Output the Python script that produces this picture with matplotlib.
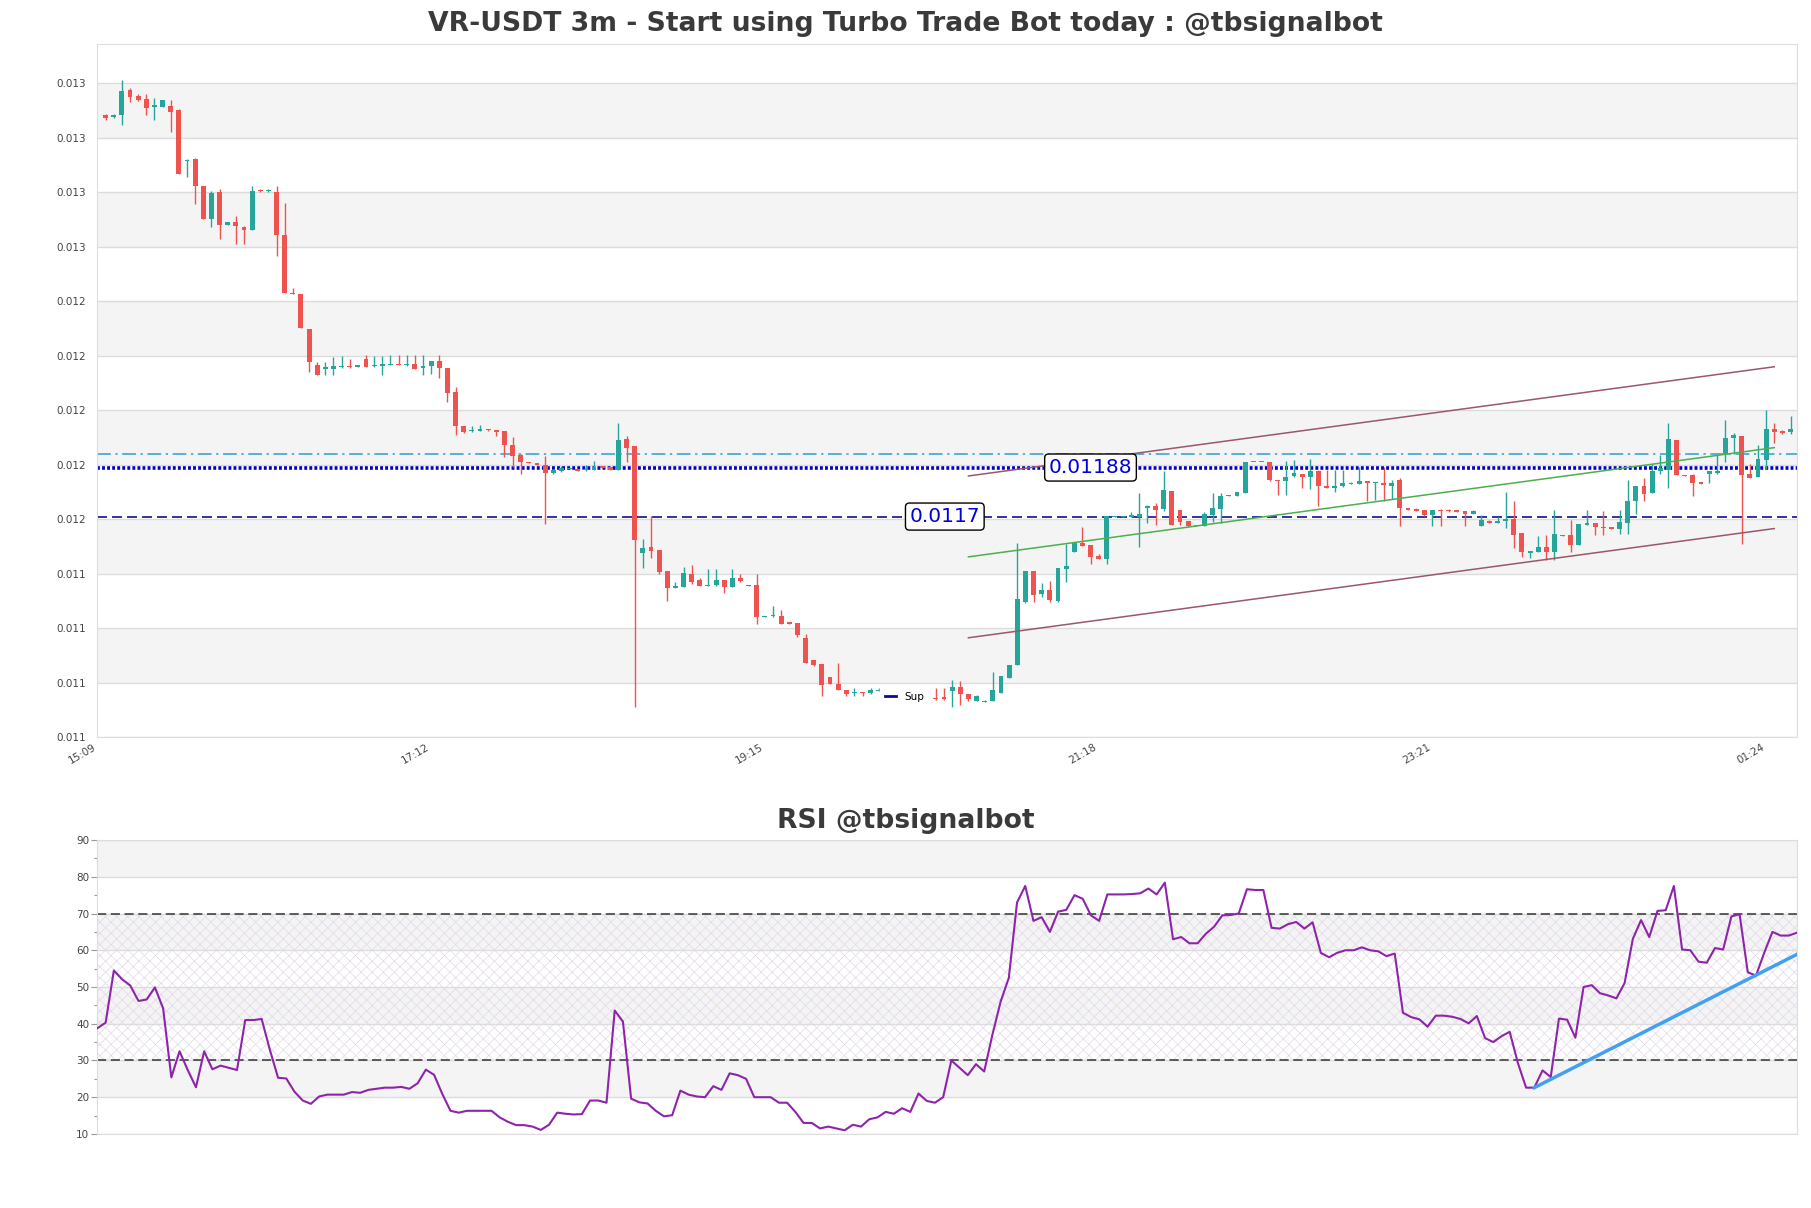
import matplotlib
matplotlib.use('agg')
import matplotlib.pyplot as plt
import numpy as np
from matplotlib.lines import Line2D

# 3m candles, first candle 15:12
opens = [
    0.013184, 0.013176, 0.013185, 0.013276, 0.013254, 0.013243, 0.013215, 0.013215, 0.013217, 0.013203,
    0.013014, 0.013023, 0.012923, 0.012804, 0.012902, 0.012779, 0.012791, 0.012774, 0.012761, 0.012909,
    0.012905, 0.012902, 0.012745, 0.012532, 0.012528, 0.012398, 0.012265, 0.012253, 0.012250, 0.012259,
    0.012262, 0.012259, 0.012289, 0.012261, 0.012264, 0.012266, 0.012271, 0.012266, 0.012271, 0.012256,
    0.012262, 0.012282, 0.012257, 0.012166, 0.012043, 0.012024, 0.012025, 0.012030, 0.012029, 0.012023,
    0.011971, 0.011935, 0.011909, 0.011908, 0.011901, 0.011871, 0.011877, 0.011885, 0.011885, 0.011880,
    0.011881, 0.011893, 0.011891, 0.011882, 0.011996, 0.011968, 0.011577, 0.011597, 0.011587, 0.011511,
    0.011449, 0.011453, 0.011499, 0.011478, 0.011456, 0.011460, 0.011476, 0.011453, 0.011483, 0.011456,
    0.011458, 0.011342, 0.011344, 0.011345, 0.011320, 0.011318, 0.011265, 0.011183, 0.011169, 0.011121,
    0.011095, 0.011074, 0.011062, 0.011067, 0.011063, 0.011069, 0.011074, 0.011070, 0.011066, 0.011070,
    0.011068, 0.011064, 0.011044, 0.011047, 0.011068, 0.011083, 0.011058, 0.011034, 0.011029, 0.011032,
    0.011061, 0.011117, 0.011166, 0.011398, 0.011509, 0.011427, 0.011439, 0.011399, 0.011519, 0.011581,
    0.011614, 0.011605, 0.011565, 0.011555, 0.011709, 0.011709, 0.011709, 0.011709, 0.011740, 0.011747,
    0.011739, 0.011803, 0.011734, 0.011693, 0.011678, 0.011676, 0.011717, 0.011739, 0.011785, 0.011787,
    0.011798, 0.011912, 0.011910, 0.011912, 0.011844, 0.011839, 0.011859, 0.011866, 0.011855, 0.011876,
    0.011824, 0.011814, 0.011821, 0.011830, 0.011830, 0.011838, 0.011833, 0.011833, 0.011822, 0.011843,
    0.011743, 0.011739, 0.011733, 0.011715, 0.011733, 0.011733, 0.011732, 0.011729, 0.011720, 0.011677,
    0.011695, 0.011688, 0.011692, 0.011702, 0.011648, 0.011578, 0.011581, 0.011597, 0.011581, 0.011644,
    0.011641, 0.011606, 0.011680, 0.011685, 0.011671, 0.011671, 0.011663, 0.011687, 0.011768, 0.011821,
    0.011797, 0.011878, 0.011882, 0.011990, 0.011864, 0.011862, 0.011836, 0.011868, 0.011871, 0.011939,
    0.012000, 0.012005, 0.011865, 0.011854, 0.011917, 0.012033, 0.012022, 0.012019,
]
highs = [
    0.013189, 0.013187, 0.013312, 0.013282, 0.013260, 0.013260, 0.013246, 0.013239, 0.013238, 0.013205,
    0.013022, 0.013025, 0.012923, 0.012906, 0.012912, 0.012791, 0.012814, 0.012778, 0.012924, 0.012913,
    0.012911, 0.012924, 0.012863, 0.012550, 0.012528, 0.012398, 0.012277, 0.012277, 0.012295, 0.012298,
    0.012289, 0.012268, 0.012303, 0.012301, 0.012301, 0.012304, 0.012304, 0.012304, 0.012304, 0.012304,
    0.012282, 0.012304, 0.012257, 0.012187, 0.012043, 0.012041, 0.012045, 0.012030, 0.012029, 0.012023,
    0.012003, 0.011941, 0.011909, 0.011908, 0.011934, 0.011886, 0.011894, 0.011888, 0.011885, 0.011899,
    0.011913, 0.011893, 0.011891, 0.012053, 0.012007, 0.011970, 0.011626, 0.011711, 0.011587, 0.011511,
    0.011471, 0.011525, 0.011532, 0.011483, 0.011519, 0.011519, 0.011476, 0.011517, 0.011499, 0.011459,
    0.011499, 0.011345, 0.011382, 0.011367, 0.011320, 0.011318, 0.011279, 0.011183, 0.011169, 0.011121,
    0.011173, 0.011074, 0.011079, 0.011067, 0.011080, 0.011080, 0.011085, 0.011078, 0.011076, 0.011075,
    0.011075, 0.011072, 0.011079, 0.011079, 0.011110, 0.011105, 0.011058, 0.011054, 0.011037, 0.011139,
    0.011126, 0.011166, 0.011613, 0.011509, 0.011509, 0.011466, 0.011472, 0.011521, 0.011608, 0.011613,
    0.011673, 0.011605, 0.011571, 0.011712, 0.011712, 0.011712, 0.011725, 0.011795, 0.011753, 0.011758,
    0.011877, 0.011803, 0.011734, 0.011693, 0.011680, 0.011728, 0.011798, 0.011795, 0.011789, 0.011800,
    0.011912, 0.011912, 0.011910, 0.011912, 0.011844, 0.011913, 0.011916, 0.011866, 0.011920, 0.011880,
    0.011882, 0.011880, 0.011880, 0.011836, 0.011892, 0.011838, 0.011837, 0.011892, 0.011843, 0.011853,
    0.011743, 0.011743, 0.011733, 0.011735, 0.011739, 0.011736, 0.011735, 0.011729, 0.011733, 0.011715,
    0.011699, 0.011710, 0.011800, 0.011766, 0.011648, 0.011582, 0.011638, 0.011642, 0.011733, 0.011644,
    0.011697, 0.011681, 0.011733, 0.011685, 0.011730, 0.011671, 0.011733, 0.011846, 0.011821, 0.011853,
    0.011902, 0.011935, 0.012055, 0.011990, 0.011864, 0.011868, 0.011836, 0.011876, 0.011935, 0.012063,
    0.012017, 0.012005, 0.011902, 0.011972, 0.012103, 0.012055, 0.012028, 0.012080,
]
lows = [
    0.013167, 0.013174, 0.013149, 0.013233, 0.013237, 0.013185, 0.013167, 0.013215, 0.013121, 0.012966,
    0.012958, 0.012857, 0.012804, 0.012772, 0.012728, 0.012779, 0.012709, 0.012709, 0.012761, 0.012903,
    0.012900, 0.012665, 0.012529, 0.012526, 0.012402, 0.012240, 0.012229, 0.012229, 0.012229, 0.012256,
    0.012256, 0.012259, 0.012259, 0.012259, 0.012229, 0.012266, 0.012266, 0.012263, 0.012250, 0.012229,
    0.012233, 0.012218, 0.012130, 0.012008, 0.012017, 0.012020, 0.012025, 0.012024, 0.012004, 0.011929,
    0.011893, 0.011868, 0.011905, 0.011901, 0.011681, 0.011868, 0.011875, 0.011885, 0.011879, 0.011877,
    0.011881, 0.011890, 0.011882, 0.011880, 0.011910, 0.011009, 0.011522, 0.011559, 0.011498, 0.011401,
    0.011449, 0.011450, 0.011464, 0.011456, 0.011456, 0.011456, 0.011431, 0.011453, 0.011471, 0.011456,
    0.011316, 0.011342, 0.011342, 0.011317, 0.011317, 0.011269, 0.011174, 0.011161, 0.011053, 0.011095,
    0.011072, 0.011053, 0.011053, 0.011053, 0.011059, 0.011069, 0.011065, 0.011062, 0.011060, 0.011063,
    0.011011, 0.011058, 0.011038, 0.011038, 0.011011, 0.011019, 0.011034, 0.011034, 0.011029, 0.011032,
    0.011061, 0.011117, 0.011166, 0.011392, 0.011395, 0.011414, 0.011395, 0.011395, 0.011471, 0.011581,
    0.011603, 0.011537, 0.011555, 0.011537, 0.011709, 0.011709, 0.011709, 0.011599, 0.011685, 0.011679,
    0.011730, 0.011679, 0.011679, 0.011676, 0.011674, 0.011676, 0.011691, 0.011685, 0.011785, 0.011785,
    0.011797, 0.011910, 0.011909, 0.011839, 0.011788, 0.011788, 0.011855, 0.011814, 0.011810, 0.011749,
    0.011815, 0.011800, 0.011819, 0.011828, 0.011830, 0.011768, 0.011770, 0.011766, 0.011774, 0.011676,
    0.011735, 0.011732, 0.011711, 0.011676, 0.011676, 0.011727, 0.011727, 0.011676, 0.011718, 0.011677,
    0.011687, 0.011687, 0.011669, 0.011593, 0.011560, 0.011559, 0.011581, 0.011550, 0.011550, 0.011639,
    0.011581, 0.011606, 0.011680, 0.011644, 0.011644, 0.011663, 0.011645, 0.011645, 0.011719, 0.011768,
    0.011797, 0.011868, 0.011815, 0.011862, 0.011859, 0.011786, 0.011830, 0.011834, 0.011868, 0.011910,
    0.011941, 0.011609, 0.011853, 0.011854, 0.011886, 0.011980, 0.012012, 0.012014,
]
closes = [
    0.013174, 0.013184, 0.013272, 0.013251, 0.013240, 0.013211, 0.013218, 0.013239, 0.013196, 0.012966,
    0.013019, 0.012922, 0.012804, 0.012899, 0.012779, 0.012791, 0.012775, 0.012761, 0.012906, 0.012905,
    0.012908, 0.012742, 0.012529, 0.012526, 0.012402, 0.012277, 0.012229, 0.012259, 0.012262, 0.012264,
    0.012259, 0.012268, 0.012259, 0.012266, 0.012268, 0.012271, 0.012266, 0.012271, 0.012253, 0.012264,
    0.012282, 0.012255, 0.012163, 0.012042, 0.012020, 0.012029, 0.012030, 0.012026, 0.012019, 0.011973,
    0.011932, 0.011910, 0.011905, 0.011901, 0.011870, 0.011880, 0.011890, 0.011888, 0.011879, 0.011883,
    0.011893, 0.011890, 0.011882, 0.011990, 0.011962, 0.011625, 0.011593, 0.011584, 0.011507, 0.011449,
    0.011453, 0.011503, 0.011471, 0.011456, 0.011460, 0.011477, 0.011453, 0.011484, 0.011475, 0.011459,
    0.011343, 0.011345, 0.011348, 0.011317, 0.011317, 0.011277, 0.011174, 0.011166, 0.011090, 0.011095,
    0.011072, 0.011059, 0.011067, 0.011062, 0.011072, 0.011074, 0.011070, 0.011066, 0.011070, 0.011068,
    0.011064, 0.011067, 0.011040, 0.011040, 0.011084, 0.011058, 0.011039, 0.011050, 0.011034, 0.011074,
    0.011126, 0.011166, 0.011408, 0.011509, 0.011422, 0.011439, 0.011404, 0.011521, 0.011529, 0.011613,
    0.011603, 0.011563, 0.011555, 0.011712, 0.011712, 0.011712, 0.011714, 0.011721, 0.011748, 0.011734,
    0.011807, 0.011679, 0.011691, 0.011676, 0.011676, 0.011718, 0.011743, 0.011787, 0.011789, 0.011800,
    0.011912, 0.011910, 0.011909, 0.011843, 0.011841, 0.011855, 0.011869, 0.011857, 0.011876, 0.011822,
    0.011815, 0.011824, 0.011832, 0.011832, 0.011840, 0.011835, 0.011837, 0.011827, 0.011833, 0.011742,
    0.011735, 0.011732, 0.011715, 0.011733, 0.011731, 0.011729, 0.011728, 0.011720, 0.011729, 0.011699,
    0.011688, 0.011694, 0.011700, 0.011643, 0.011581, 0.011582, 0.011597, 0.011581, 0.011646, 0.011639,
    0.011605, 0.011681, 0.011685, 0.011670, 0.011669, 0.011663, 0.011690, 0.011766, 0.011821, 0.011794,
    0.011876, 0.011889, 0.011994, 0.011862, 0.011859, 0.011834, 0.011830, 0.011876, 0.011875, 0.012000,
    0.012009, 0.011862, 0.011853, 0.011923, 0.012033, 0.012020, 0.012018, 0.012033,
]

rsi = [
    38.8, 40.3, 54.5, 52.1, 50.4, 46.2, 46.6, 49.9, 44.2, 25.4,
    32.5, 27.4, 22.7, 32.5, 27.6, 28.6, 28.0, 27.4, 41.0, 41.0,
    41.3, 32.9, 25.3, 25.1, 21.5, 19.1, 18.2, 20.2, 20.7, 20.7,
    20.7, 21.4, 21.2, 22.0, 22.3, 22.6, 22.6, 22.8, 22.3, 23.8,
    27.5, 26.1, 20.9, 16.3, 15.8, 16.3, 16.3, 16.3, 16.3, 14.5,
    13.3, 12.4, 12.4, 12.0, 11.1, 12.5, 15.8, 15.5, 15.3, 15.4,
    19.1, 19.1, 18.5, 43.6, 40.6, 19.6, 18.6, 18.3, 16.3, 14.8,
    15.1, 21.8, 20.7, 20.2, 20.0, 23.0, 22.0, 26.5, 26.0, 25.0,
    20.0, 20.0, 20.0, 18.5, 18.5, 16.0, 13.0, 13.0, 11.5, 12.0,
    11.5, 11.0, 12.5, 12.0, 14.0, 14.5, 16.0, 15.5, 17.0, 16.0,
    21.0, 19.0, 18.5, 20.0, 30.0, 28.0, 26.0, 29.0, 27.0, 37.0,
    46.0, 52.5, 73.0, 77.5, 68.0, 69.0, 65.0, 70.5, 71.0, 75.0,
    74.0, 69.5, 68.0, 75.2, 75.2, 75.2, 75.3, 75.5, 76.8, 75.2,
    78.4, 63.0, 63.6, 61.9, 61.9, 64.5, 66.4, 69.5, 69.6, 70.0,
    76.6, 76.4, 76.4, 66.1, 65.9, 67.1, 67.7, 65.9, 67.6, 59.3,
    58.1, 59.3, 60.0, 60.0, 60.8, 60.0, 59.7, 58.4, 59.1, 43.0,
    41.8, 41.2, 39.2, 42.2, 42.2, 41.9, 41.3, 40.1, 42.1, 36.1,
    35.0, 36.6, 37.8, 29.3, 22.6, 22.6, 27.3, 25.5, 41.4, 41.1,
    36.2, 50.0, 50.5, 48.3, 47.7, 46.9, 51.1, 63.1, 68.2, 63.6,
    70.7, 70.9, 77.5, 60.2, 60.0, 56.9, 56.6, 60.6, 60.2, 69.2,
    69.8, 54.0, 53.1, 59.3, 65.0, 64.0, 64.0, 64.8,
]

tick_pos = [-1, 40, 81, 122, 163, 204]
tick_labels = ['15:09', '17:12', '19:15', '21:18', '23:21', '01:24']
ytick_vals = [0.0109 + 0.0002 * k for k in range(13)]
ytick_labels = ['0.011'] * 4 + ['0.012'] * 5 + ['0.013'] * 4

resistance = 0.01189
support = 0.01171
upper_level = 0.011941
# regression channel (start idx, end idx), (start price, end price)
chan_x = [106, 205]
chan_mid = [0.011562, 0.011963]
chan_half = 0.000297
rsi_trend_x = [175, 207]
rsi_trend_y = [22.6, 58.9]

UP = '#26a69a'
DOWN = '#ef5350'
BAND = '#f4f4f4'
GRID = '#dcdcdc'

plt.rcParams['hatch.linewidth'] = 0.5

fig = plt.figure(figsize=(18.11, 12.08), dpi=100)
ax = fig.add_axes([0.0538, 0.3895, 0.9385, 0.5741])
ax2 = fig.add_axes([0.0538, 0.0613, 0.9385, 0.2433])

o = np.array(opens)
h = np.array(highs)
l = np.array(lows)
c = np.array(closes)
x = np.arange(len(c))

ax.set_xlim(-1, 207.8)
ax.set_ylim(l.min() * 0.99, h.max() * 1.01)

for k in range(1, len(ytick_vals) - 1, 2):
    ax.axhspan(ytick_vals[k], ytick_vals[k + 1], color=BAND, lw=0, zorder=0)
for v in ytick_vals:
    ax.axhline(v, color=GRID, lw=1, zorder=0.5)

ax.axhline(upper_level, color='#2a9fd6', lw=1.1, ls=(0, (9, 3, 1.5, 3)), zorder=2)
ax.axhline(resistance, color='#0000cc', lw=2.6, ls=(0, (0.8, 0.6)), zorder=2)
ax.axhline(support, color='#11118a', lw=1.2, ls=(0, (6, 3)), zorder=2)

colors = [UP if cc >= oo else DOWN for oo, cc in zip(o, c)]
ax.vlines(x, l, h, colors=colors, lw=1.0, zorder=3)
body = np.maximum(np.abs(c - o), 0.0000045)
ax.bar(x, body, bottom=np.minimum(o, c), width=0.6, color=colors, lw=0, zorder=3)

cm = np.array(chan_mid)
ax.plot(chan_x, cm + chan_half, color='#9a5868', lw=1.1, zorder=4)
ax.plot(chan_x, cm - chan_half, color='#9a5868', lw=1.1, zorder=4)
ax.plot(chan_x, cm, color='#4caf50', lw=1.1, zorder=4)

box = dict(boxstyle='round,pad=0.2', fc='white', ec='black', lw=1)
ax.text(121, resistance, '0.01188', color='#0000dd', fontsize=14.5,
        ha='center', va='center', bbox=box, zorder=6)
ax.text(103.1, support, '0.0117', color='#0000dd', fontsize=14.5,
        ha='center', va='center', bbox=box, zorder=6)

leg = ax.legend(handles=[Line2D([], [], color='#0a0a9a', lw=2)], labels=['Sup'],
                loc='center', bbox_to_anchor=(0.475, 0.059), fontsize=7.5,
                handlelength=1.1, handletextpad=0.8, borderpad=0.5,
                frameon=True, framealpha=1, facecolor='white', edgecolor='white')
leg.set_zorder(10)

ax.set_yticks(ytick_vals)
ax.set_yticklabels(ytick_labels)
ax.set_xticks(tick_pos)
ax.set_xticklabels(tick_labels, rotation=30, ha='right')
ax.tick_params(axis='both', length=0, labelsize=7.5, colors='#444444')
ax.tick_params(axis='y', pad=8)
ax.tick_params(axis='x', pad=3)
for s in ax.spines.values():
    s.set_color('#dddddd')
# titles are centred on the figure, not on the axes
fig.text(0.5, 1 - 24 / 1208, 'VR-USDT 3m - Start using Turbo Trade Bot today : @tbsignalbot',
         fontsize=19.2, fontweight='bold', color='#3a3a3a', ha='center', va='center')

# RSI panel
ax2.set_xlim(0, len(rsi) - 1)
ax2.set_ylim(10, 90)
for lo in (20, 40, 60, 80):
    ax2.axhspan(lo, lo + 10, color=BAND, lw=0, zorder=0)
ax2.axhspan(30, 70, facecolor='none', edgecolor='#e2d8ea', hatch='xxx', lw=0, zorder=0.3)
for v in range(10, 91, 10):
    ax2.axhline(v, color=GRID, lw=1, zorder=0.5)
ax2.axhline(30, color='#333333', lw=1.1, ls=(0, (6, 3)), zorder=2)
ax2.axhline(70, color='#333333', lw=1.1, ls=(0, (6, 3)), zorder=2)
ax2.plot(np.arange(len(rsi)), rsi, color='#8e24aa', lw=1.5, zorder=3)
ax2.plot(rsi_trend_x, rsi_trend_y, color='#42a0f0', lw=2.5, zorder=4)

ax2.set_yticks(range(10, 91, 10))
ax2.set_yticks(range(15, 90, 10), minor=True)
ax2.set_xticks([])
ax2.tick_params(axis='y', which='major', length=4, width=0.8, color='#999999',
                labelsize=7.5, labelcolor='#444444', pad=2)
ax2.tick_params(axis='y', which='minor', length=2, width=0.8, color='#999999')
for s in ax2.spines.values():
    s.set_color('#dddddd')
fig.text(0.5, 1 - 821 / 1208, 'RSI @tbsignalbot',
         fontsize=19.2, fontweight='bold', color='#3a3a3a', ha='center', va='center')

fig.savefig('out.png', dpi=100)
